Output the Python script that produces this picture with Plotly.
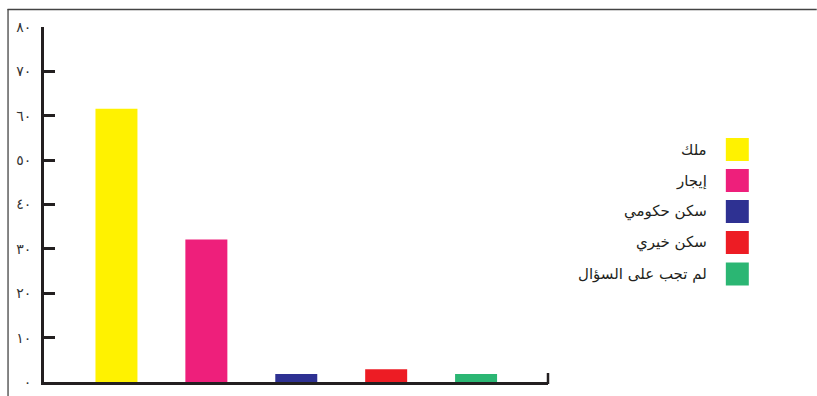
import plotly.graph_objects as go

categories = ["ملك", "إيجار", "سكن حكومي", "سكن خيري", "لم تجب على السؤال"]
values = [61.6, 32.1, 1.8, 2.9, 1.8]
colors = ["#FFF200", "#EE1F7B", "#2E3192", "#ED1C24", "#2BB673"]
tick_vals = [0, 10, 20, 30, 40, 50, 60, 70, 80]
tick_text = ["٠", "١٠", "٢٠", "٣٠", "٤٠", "٥٠", "٦٠", "٧٠", "٨٠"]

W, H = 817, 396
L, R, T, B = 43.5, 548, 27, 382


def px(x):
    return (x - L) / (R - L)


def py(y):
    return (B - y) / (B - T)


fig = go.Figure()
fig.add_trace(go.Bar(
    x=list(range(len(categories))), y=values,
    marker=dict(color=colors, line=dict(width=0)),
    showlegend=False, hoverinfo="skip",
))

axis_col = "#231f20"
fig.update_layout(
    width=W, height=H,
    margin=dict(l=L, r=W - R, t=T, b=H - B, autoexpand=False),
    paper_bgcolor="white", plot_bgcolor="white",
    bargap=0.533,
    showlegend=False,
    font=dict(family="DejaVu Sans", color="#333333"),
    xaxis=dict(range=[-0.806, 4.8], showticklabels=False, showgrid=False,
               zeroline=False, showline=True, linewidth=3, linecolor=axis_col,
               ticks="", automargin=False),
    yaxis=dict(range=[0, 80], tickvals=tick_vals, ticktext=tick_text,
               showgrid=False, zeroline=False, showline=True, linewidth=3,
               linecolor=axis_col, ticks="inside", ticklen=11, tickwidth=2.5,
               tickcolor=axis_col, tickfont=dict(size=14, color="#333333"),
               ticklabelstandoff=7, automargin=False),
)

shapes = []
# frame lines
shapes.append(dict(type="line", xref="paper", yref="paper",
                   x0=px(7), x1=px(817), y0=py(9.5), y1=py(9.5),
                   line=dict(color="#444444", width=1.3)))
shapes.append(dict(type="line", xref="paper", yref="paper",
                   x0=px(7.5), x1=px(7.5), y0=py(9), y1=py(396),
                   line=dict(color="#444444", width=1.3)))
# end tick on x axis
shapes.append(dict(type="line", xref="paper", yref="paper",
                   x0=1.0, x1=1.0, y0=py(384), y1=py(373),
                   line=dict(color=axis_col, width=2.5)))

annotations = []
row_y = [149.5, 180.5, 211.5, 242.5, 274]
for i, (cat, col) in enumerate(zip(categories, colors)):
    yc = row_y[i]
    shapes.append(dict(type="rect", xref="paper", yref="paper",
                       x0=px(726), x1=px(749), y0=py(yc + 11.5), y1=py(yc - 11.5),
                       fillcolor=col, line=dict(width=0)))
    annotations.append(dict(xref="paper", yref="paper", x=px(709), y=py(yc),
                            text=cat, showarrow=False, xanchor="right",
                            yanchor="middle",
                            font=dict(size=15, color="#231f20", family="DejaVu Sans")))

fig.update_layout(shapes=shapes, annotations=annotations)
fig.write_html("out.html")
